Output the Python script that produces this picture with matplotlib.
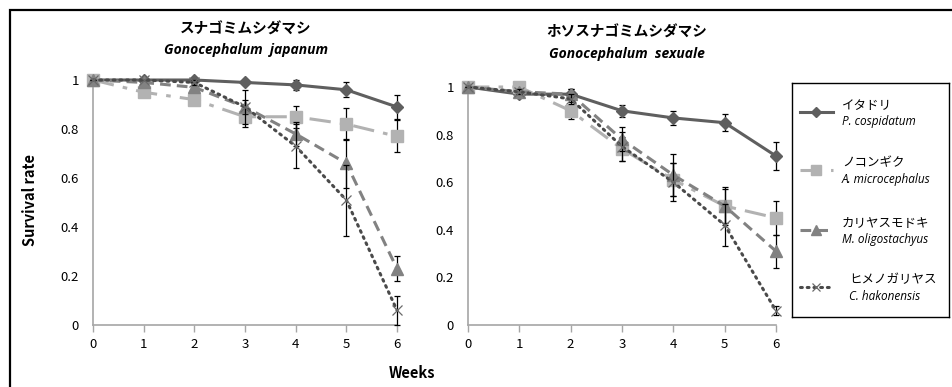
import matplotlib.pyplot as plt
from matplotlib.lines import Line2D
from matplotlib.patches import Rectangle

plt.rcParams['font.family'] = ['Noto Sans CJK JP', 'DejaVu Sans']

weeks = [0, 1, 2, 3, 4, 5, 6]
week_ticks = [0, 1, 2, 3, 4, 5, 6]
rate_ticks = [0, 0.2, 0.4, 0.6, 0.8, 1]
rate_labels = ['0', '0.2', '0.4', '0.6', '0.8', '1']

# Gonocephalum japanum
itadori_jap = [1.00, 1.00, 1.00, 0.99, 0.98, 0.96, 0.89]
itadori_jap_err = [0, 0, 0.005, 0.005, 0.02, 0.03, 0.05]
nokongiku_jap = [1.00, 0.95, 0.92, 0.85, 0.85, 0.82, 0.77]
nokongiku_jap_err = [0, 0.01, 0.02, 0.04, 0.045, 0.065, 0.065]
karayasu_jap = [1.00, 0.99, 0.97, 0.89, 0.78, 0.66, 0.23]
karayasu_jap_err = [0, 0.005, 0.02, 0.03, 0.05, 0.10, 0.05]
himeno_jap = [1.00, 1.00, 0.99, 0.89, 0.73, 0.51, 0.06]
himeno_jap_err = [0, 0, 0.01, 0.07, 0.09, 0.145, 0.06]

# Gonocephalum sexuale
itadori_sex = [1.00, 0.97, 0.97, 0.90, 0.87, 0.85, 0.71]
itadori_sex_err = [0, 0.01, 0.02, 0.025, 0.03, 0.035, 0.06]
nokongiku_sex = [1.00, 1.00, 0.90, 0.74, 0.61, 0.50, 0.45]
nokongiku_sex_err = [0, 0.005, 0.035, 0.05, 0.07, 0.07, 0.07]
karayasu_sex = [1.00, 0.98, 0.97, 0.78, 0.63, 0.50, 0.31]
karayasu_sex_err = [0, 0.01, 0.02, 0.05, 0.09, 0.08, 0.07]
himeno_sex = [1.00, 0.98, 0.95, 0.75, 0.60, 0.42, 0.06]
himeno_sex_err = [0, 0.01, 0.02, 0.06, 0.08, 0.09, 0.02]

plant_names = ['イタドリ', 'ノコンギク', 'カリヤスモドキ', 'ヒメノガリヤス']
plant_species = ['P. cospidatum', 'A. microcephalus', 'M. oligostachyus', 'C. hakonensis']

styles = [
    dict(color='#5f5f5f', ls='-', marker='D', ms=6, mfc='#5f5f5f', mec='#5f5f5f', lw=2.2),
    dict(color='#b2b2b2', ls=(0, (7, 3, 1.5, 3)), marker='s', ms=8, mfc='#b2b2b2', mec='#b2b2b2', lw=2.2),
    dict(color='#828282', ls=(0, (3.5, 2)), marker='^', ms=8, mfc='#828282', mec='#828282', lw=2.2),
    dict(color='#4a4a4a', ls=(0, (0.6, 1.6)), marker='x', ms=7, mfc='none', mec='#6a6a6a', mew=0.9, lw=2.2,
         dash_capstyle='round'),
]

fig = plt.figure(figsize=(9.52, 3.87), dpi=100)

# outer frame
fig.patches.append(Rectangle((10 / 952, -0.1), 1.2, 1.1 - 10 / 387, transform=fig.transFigure,
                             fill=False, edgecolor='black', lw=1.6))

ax1 = fig.add_axes([93 / 952, 1 - 325 / 387, 304 / 952, 245 / 387])
ax2 = fig.add_axes([468 / 952, 1 - 325 / 387, 308 / 952, 238 / 387])

panels = [
    (ax1, [itadori_jap, nokongiku_jap, karayasu_jap, himeno_jap],
     [itadori_jap_err, nokongiku_jap_err, karayasu_jap_err, himeno_jap_err]),
    (ax2, [itadori_sex, nokongiku_sex, karayasu_sex, himeno_sex],
     [itadori_sex_err, nokongiku_sex_err, karayasu_sex_err, himeno_sex_err]),
]

for ax, series, errs in panels:
    for i, (vals, err) in enumerate(zip(series, errs)):
        ax.errorbar(weeks, vals, yerr=err, fmt='none', ecolor='black', elinewidth=0.9,
                    capsize=2.5, capthick=0.9, zorder=3 + 2 * i, clip_on=False)
        ax.plot(weeks, vals, zorder=4 + 2 * i, clip_on=False, **styles[i])
    ax.set_xlim(0, 6)
    ax.set_ylim(0, 1)
    ax.set_xticks(week_ticks)
    ax.set_yticks(rate_ticks)
    ax.set_yticklabels(rate_labels)
    for s in ['top', 'right']:
        ax.spines[s].set_visible(False)
    for s in ['left', 'bottom']:
        ax.spines[s].set_color('#a6a6a6')
        ax.spines[s].set_linewidth(1.2)
    ax.tick_params(axis='x', length=5, width=1, color='#a6a6a6', labelsize=9.5, pad=4)
    ax.tick_params(axis='y', length=0, labelsize=9.5, pad=10)
    ax.patch.set_alpha(0)

fig.text(246 / 952, 1 - 29 / 387, 'スナゴミムシダマシ', ha='center', va='center',
         fontsize=10.5, fontweight='bold')
fig.text(246 / 952, 1 - 50 / 387, 'Gonocephalum  japanum', ha='center', va='center',
         fontsize=10, fontstyle='italic', fontweight='bold', family=['Open Sans', 'DejaVu Sans'])
fig.text(627 / 952, 1 - 32 / 387, 'ホソスナゴミムシダマシ', ha='center', va='center',
         fontsize=10.5, fontweight='bold')
fig.text(627 / 952, 1 - 54 / 387, 'Gonocephalum  sexuale', ha='center', va='center',
         fontsize=10, fontstyle='italic', fontweight='bold', family=['Open Sans', 'DejaVu Sans'])

fig.text(30 / 952, 1 - 200 / 387, 'Survival rate', rotation=90, ha='center', va='center',
         fontsize=10.5, fontweight='bold')
fig.text(412 / 952, 1 - 373 / 387, 'Weeks', ha='center', va='center',
         fontsize=10.5, fontweight='bold')

# legend box
lax = fig.add_axes([792 / 952, 1 - 317 / 387, 157 / 952, 234 / 387])
lax.set_xlim(792, 949)
lax.set_ylim(317, 83)
lax.set_xticks([])
lax.set_yticks([])
for s in lax.spines.values():
    s.set_color('black')
    s.set_linewidth(1.0)
entry_y = [112, 170, 230, 287]
text_x = [842, 842, 842, 849]
for i in range(4):
    st = dict(styles[i])
    st['ms'] = st['ms'] * 0.85
    lax.add_line(Line2D([800, 816.5, 833], [entry_y[i]] * 3, markevery=[1], **st))
    lax.text(text_x[i], entry_y[i] - 7, plant_names[i], ha='left', va='center', fontsize=9)
    lax.text(text_x[i], entry_y[i] + 9, plant_species[i], ha='left', va='center',
             fontsize=8.5, fontstyle='italic', family=['Open Sans', 'DejaVu Sans'])

fig.savefig('out.png', dpi=100)
